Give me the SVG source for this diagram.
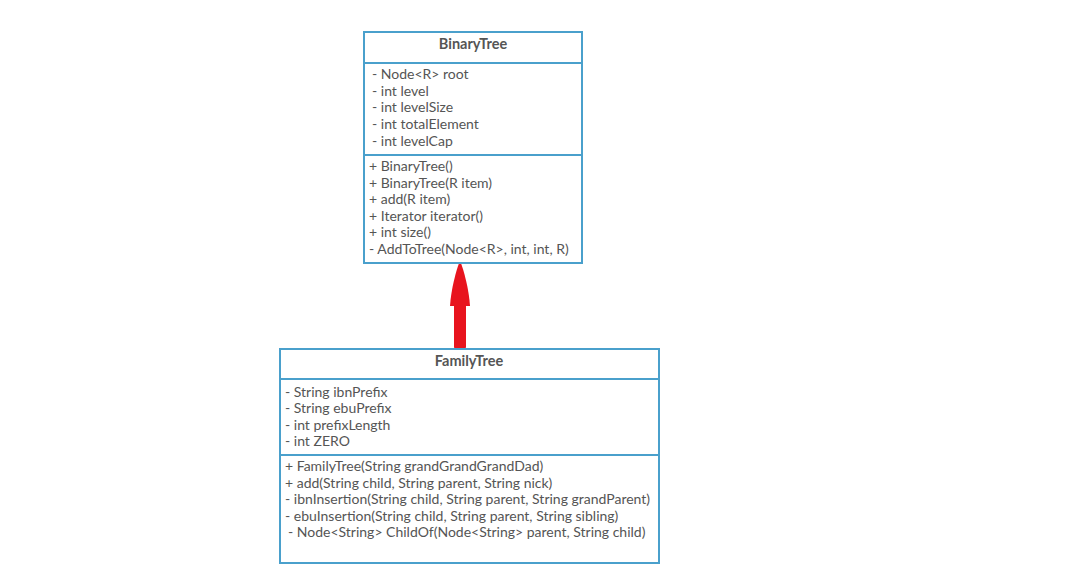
<svg xmlns="http://www.w3.org/2000/svg" width="1071" height="578" viewBox="0 0 1071 578">
<style>
.box{fill:#fff;stroke:#4aa0cc;stroke-width:2}
.div{stroke:#4aa0cc;stroke-width:2}
text{font-family:Lato,"Open Sans","Liberation Sans",sans-serif;font-size:14px;fill:#555}
.title{font-weight:bold;text-anchor:middle;font-size:14.5px}
</style>
<rect width="1071" height="578" fill="#fff"/>
<g id="connectors">
<rect x="454" y="300" width="12" height="49" rx="2" fill="#e8141e"/>
<path d="M460,261 C456,270 451,290 450,306 L470,306 C469,290 464,270 460,261 Z" fill="#e8141e"/>
</g>
<g id="BinaryTree">
<rect class="box" x="364" y="32" width="218" height="231"/>
<line class="div" x1="364" y1="63" x2="582" y2="63"/>
<line class="div" x1="364" y1="155" x2="582" y2="155"/>
<text class="title" x="473" y="49">BinaryTree</text>
<text x="372" y="79">- Node&lt;R&gt; root</text>
<text x="372" y="96">- int level</text>
<text x="372" y="112">- int levelSize</text>
<text x="372" y="129">- int totalElement</text>
<text x="372" y="146">- int levelCap</text>
<text x="369" y="171">+ BinaryTree()</text>
<text x="369" y="188">+ BinaryTree(R item)</text>
<text x="369" y="204">+ add(R item)</text>
<text x="369" y="221">+ Iterator iterator()</text>
<text x="369" y="237">+ int size()</text>
<text x="369" y="254">- AddToTree(Node&lt;R&gt;, int, int, R)</text>
</g>
<g id="FamilyTree">
<rect class="box" x="280" y="349" width="379" height="214"/>
<line class="div" x1="280" y1="379" x2="659" y2="379"/>
<line class="div" x1="280" y1="455" x2="659" y2="455"/>
<text class="title" x="469" y="366">FamilyTree</text>
<text x="285" y="397">- String ibnPrefix</text>
<text x="285" y="413">- String ebuPrefix</text>
<text x="285" y="430">- int prefixLength</text>
<text x="285" y="446">- int ZERO</text>
<text x="285" y="471">+ FamilyTree(String grandGrandGrandDad)</text>
<text x="285" y="488">+ add(String child, String parent, String nick)</text>
<text x="285" y="504">- ibnInsertion(String child, String parent, String grandParent)</text>
<text x="285" y="521">- ebuInsertion(String child, String parent, String sibling)</text>
<text x="288" y="537">- Node&lt;String&gt; ChildOf(Node&lt;String&gt; parent, String child)</text>
</g>
</svg>
